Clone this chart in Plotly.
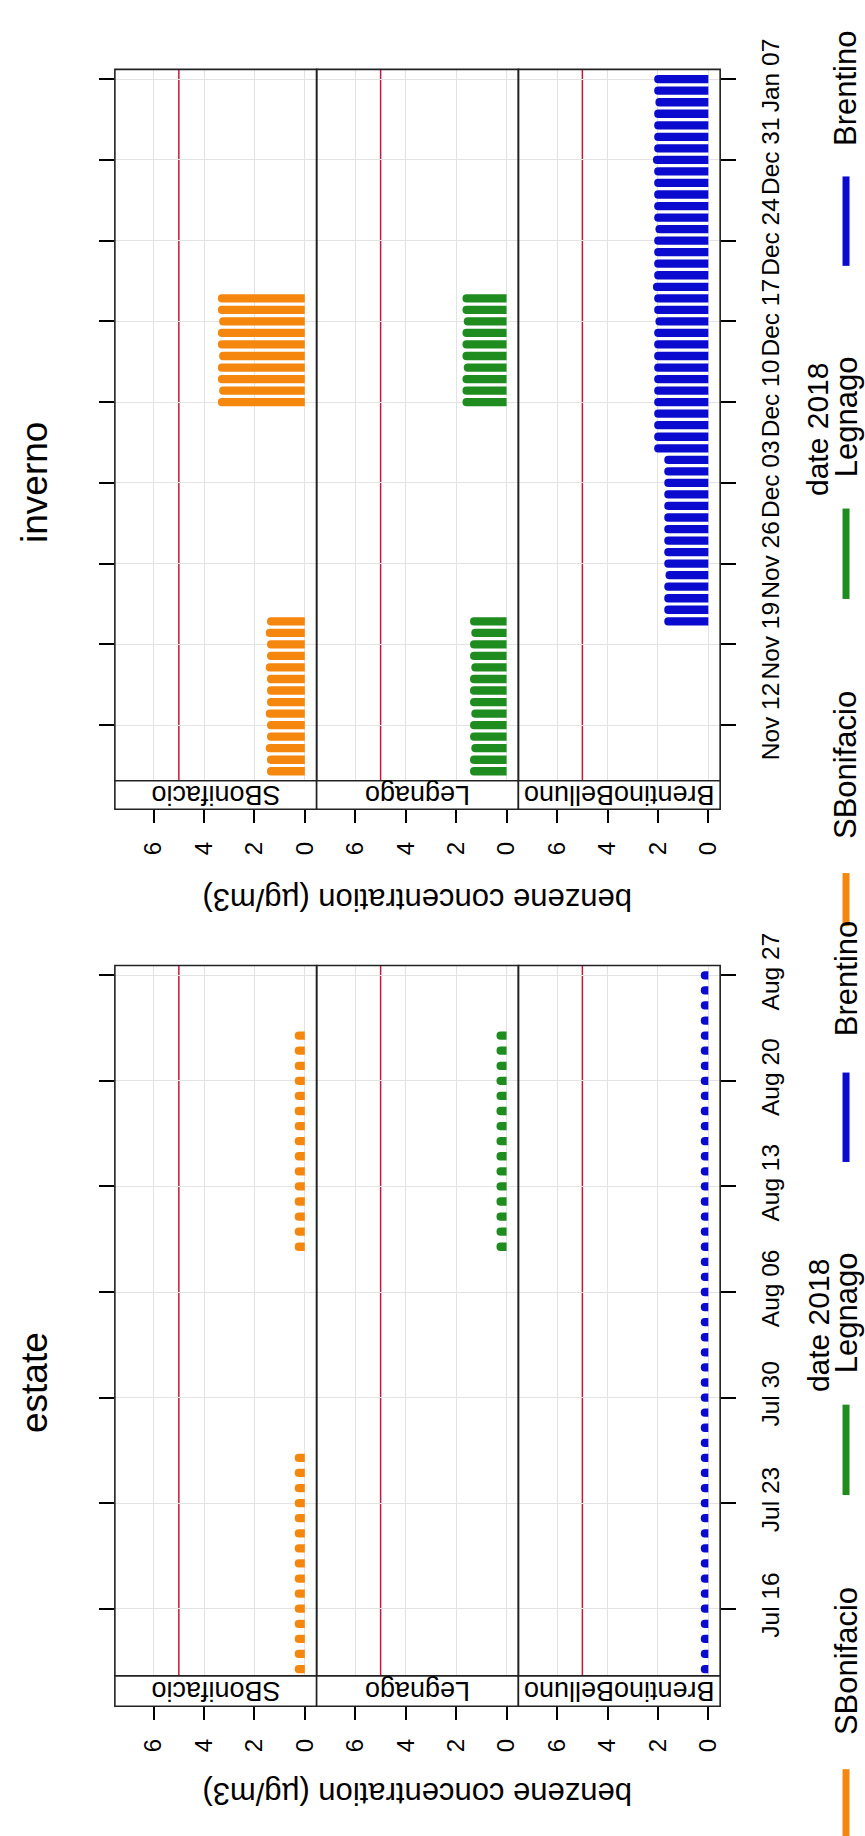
import pandas as pd
import plotly.graph_objects as go

W, H = 865, 1836
FONT = "Liberation Sans, Arial, sans-serif"

# ---------------- data ----------------
stations = ["SBonifacio", "Legnago", "BrentinoBelluno"]
station_colors = ["#f5870f", "#1f8c1f", "#0b0bd0"]
seasons = ["inverno", "estate"]

# inverno (winter 2018)
inv_sb_dates = list(pd.date_range("2018-11-08", "2018-11-21")) + list(pd.date_range("2018-12-10", "2018-12-19"))
inv_sb_vals = [1.5, 1.5, 1.55, 1.5, 1.5, 1.55, 1.5, 1.5, 1.5, 1.55, 1.5, 1.5, 1.55, 1.5,
               3.45, 3.4, 3.45, 3.45, 3.4, 3.45, 3.45, 3.4, 3.45, 3.45]
inv_le_dates = list(pd.date_range("2018-11-08", "2018-11-21")) + list(pd.date_range("2018-12-10", "2018-12-19"))
inv_le_vals = [1.45, 1.45, 1.4, 1.45, 1.45, 1.4, 1.45, 1.45, 1.45, 1.4, 1.45, 1.45, 1.4, 1.45,
               1.75, 1.75, 1.75, 1.7, 1.75, 1.75, 1.75, 1.7, 1.75, 1.75]
inv_br_dates = list(pd.date_range("2018-11-21", "2019-01-07"))
inv_br_vals = [1.75, 1.75, 1.75, 1.75, 1.7, 1.75, 1.75, 1.75, 1.75, 1.75, 1.75, 1.75, 1.75, 1.75, 1.75,
               2.15, 2.15, 2.15, 2.15, 2.15, 2.15, 2.15, 2.15, 2.15, 2.15, 2.15, 2.1,
               2.15, 2.15, 2.2, 2.15, 2.15, 2.15, 2.15, 2.1, 2.15, 2.15, 2.15, 2.15,
               2.15, 2.2, 2.15, 2.15, 2.15, 2.15, 2.1, 2.15, 2.15]

# estate (summer 2018)
est_sb_dates = list(pd.date_range("2018-07-12", "2018-07-26")) + list(pd.date_range("2018-08-09", "2018-08-23"))
est_sb_vals = [0.4, 0.4, 0.4, 0.4, 0.4, 0.4, 0.4, 0.4, 0.4, 0.4, 0.4, 0.4, 0.4, 0.4, 0.4,
               0.4, 0.4, 0.4, 0.4, 0.4, 0.4, 0.4, 0.4, 0.4, 0.4, 0.4, 0.4, 0.4, 0.4, 0.4]
est_le_dates = list(pd.date_range("2018-08-09", "2018-08-23"))
est_le_vals = [0.4, 0.4, 0.4, 0.4, 0.4, 0.4, 0.4, 0.4, 0.4, 0.4, 0.4, 0.4, 0.4, 0.4, 0.4]
est_br_dates = list(pd.date_range("2018-07-12", "2018-08-27"))
est_br_vals = [0.3, 0.3, 0.3, 0.3, 0.3, 0.3, 0.3, 0.3, 0.3, 0.3, 0.3, 0.3, 0.3, 0.3, 0.3, 0.3,
               0.3, 0.3, 0.3, 0.3, 0.3, 0.3, 0.3, 0.3, 0.3, 0.3, 0.3, 0.3, 0.3, 0.3, 0.3, 0.3,
               0.3, 0.3, 0.3, 0.3, 0.3, 0.3, 0.3, 0.3, 0.3, 0.3, 0.3, 0.3, 0.3, 0.3, 0.3]

limit_value = 5
value_ticks = [0, 2, 4, 6]
inv_date_ticks = ["2018-11-12", "2018-11-19", "2018-11-26", "2018-12-03", "2018-12-10",
                  "2018-12-17", "2018-12-24", "2018-12-31", "2019-01-07"]
est_date_ticks = ["2018-07-16", "2018-07-23", "2018-07-30", "2018-08-06", "2018-08-13",
                  "2018-08-20", "2018-08-27"]
inv_date_range = ["2018-11-07 04:20", "2019-01-07 20:25"]
est_date_range = ["2018-07-11 13:10", "2018-08-27 15:40"]

data = {
    "inverno": [(inv_sb_dates, inv_sb_vals), (inv_le_dates, inv_le_vals), (inv_br_dates, inv_br_vals)],
    "estate": [(est_sb_dates, est_sb_vals), (est_le_dates, est_le_vals), (est_br_dates, est_br_vals)],
}
date_ticks = {"inverno": inv_date_ticks, "estate": est_date_ticks}
date_ranges = {"inverno": inv_date_range, "estate": est_date_range}

# ---------------- layout geometry (pixels) ----------------
def fx(p):
    return p / W

def fy(p):
    return 1 - p / H

panel_x = [(115, 317), (317, 519), (519, 721)]
geo = {
    "inverno": dict(top=38, strip_top=762, strip_bot=791, off=0, bar_w=0.72, title_y=458),
    "estate": dict(top=950, strip_top=1673, strip_bot=1704, off=912, bar_w=0.55, title_y=1374),
}

fig = go.Figure()
layout = dict(
    width=W, height=H, autosize=False,
    margin=dict(l=0, r=0, t=0, b=0),
    paper_bgcolor="white", plot_bgcolor="white",
    showlegend=False, font=dict(family=FONT, color="black"),
)
shapes = []
annotations = []

n = 0
for s in seasons:
    g = geo[s]
    for i, st in enumerate(stations):
        n += 1
        xa = "x" if n == 1 else f"x{n}"
        ya = "y" if n == 1 else f"y{n}"
        dates, vals = data[s][i]
        fig.add_trace(go.Bar(
            x=vals, y=dates, orientation="h", xaxis=xa, yaxis=ya,
            width=g["bar_w"] * 86400000,
            marker=dict(color=station_colors[i], line=dict(width=0), cornerradius=4),
            hoverinfo="skip",
        ))
        xl, xr = panel_x[i]
        layout["xaxis" if n == 1 else f"xaxis{n}"] = dict(
            domain=[fx(xl), fx(xr)], range=[7.54, -0.47],
            anchor="free", position=fy(g["strip_bot"]),
            tickmode="array", tickvals=value_ticks, ticktext=[str(v) for v in value_ticks],
            ticks="outside", ticklen=13, tickwidth=1.5, tickcolor="black",
            ticklabelstandoff=9,
            tickangle=-90, tickfont=dict(size=24, family=FONT, color="black"),
            showgrid=True, gridcolor="#e3e3e3", gridwidth=1,
            zeroline=False, showline=False,
        )
        yax = dict(
            domain=[fy(g["strip_top"]), fy(g["top"])], type="date",
            range=date_ranges[s], anchor=xa,
            tickmode="array", tickvals=date_ticks[s], tickformat="%b %d",
            showgrid=True, gridcolor="#e3e3e3", gridwidth=1,
            zeroline=False, showline=False,
        )
        if i == 0:
            yax.update(side="left", ticks="outside", ticklen=15, tickwidth=1.5,
                       tickcolor="black", showticklabels=False)
        elif i == 1:
            yax.update(ticks="", showticklabels=False)
        else:
            yax.update(side="right", ticks="outside", ticklen=15, tickwidth=1.5,
                       tickcolor="black", showticklabels=True, tickangle=-90,
                       ticklabelstandoff=13,
                       tickfont=dict(size=24.5, family=FONT, color="black"))
        layout["yaxis" if n == 1 else f"yaxis{n}"] = yax

        # reference line at the limit value
        shapes.append(dict(type="line", xref=xa, yref=f"{ya} domain",
                           x0=limit_value, x1=limit_value, y0=0, y1=1,
                           line=dict(color="#c8163a", width=1.5), layer="below"))
        # panel border
        shapes.append(dict(type="rect", xref="paper", yref="paper",
                           x0=fx(xl), x1=fx(xr), y0=fy(g["strip_top"]), y1=fy(g["top"]),
                           line=dict(color="#222222", width=1.6), layer="above"))
        # strip
        shapes.append(dict(type="rect", xref="paper", yref="paper",
                           x0=fx(xl), x1=fx(xr), y0=fy(g["strip_bot"]), y1=fy(g["strip_top"]),
                           fillcolor="white",
                           line=dict(color="#222222", width=1.6), layer="above"))
        annotations.append(dict(text=st, xref="paper", yref="paper",
                                x=fx((xl + xr) / 2), y=fy((g["strip_top"] + g["strip_bot"]) / 2),
                                xanchor="center", yanchor="middle", textangle=180,
                                showarrow=False, font=dict(size=27, family=FONT, color="black")))

    off = g["off"]
    # main title
    annotations.append(dict(text=s, xref="paper", yref="paper", x=fx(34), y=fy(g["title_y"]),
                            xanchor="center", yanchor="middle", textangle=-90, showarrow=False,
                            font=dict(size=37, family=FONT, color="black")))
    # value axis title
    annotations.append(dict(text="benzene concentration (µg/m3)", xref="paper", yref="paper",
                            x=fx(418), y=fy(883 + off - (2 if s == "estate" else 0)),
                            xanchor="center", yanchor="middle", textangle=180, showarrow=False,
                            font=dict(size=31, family=FONT, color="black")))
    # date axis title
    annotations.append(dict(text="date 2018", xref="paper", yref="paper",
                            x=fx(819), y=fy(405 + off),
                            xanchor="center", yanchor="middle", textangle=-90, showarrow=False,
                            font=dict(size=30, family=FONT, color="black")))
    # legend keys
    key_spans = [(856 + off, 910 + off if s == "inverno" else 1870), (485 + off, 577 + off), (147 + off, 238 + off)]
    for (y0, y1), c in zip(key_spans, station_colors):
        shapes.append(dict(type="line", xref="paper", yref="paper",
                           x0=fx(847), x1=fx(847), y0=fy(y0), y1=fy(y1),
                           line=dict(color=c, width=7), layer="above"))
    legend_text = [("SBonifacio", 746 + off), ("Legnago", 392 + off)]
    if s == "inverno":
        legend_text.append(("Brentino", 58))
    else:
        legend_text.append(("Brentino", 964))
    for txt, yc in legend_text:
        annotations.append(dict(text=txt, xref="paper", yref="paper", x=fx(847), y=fy(yc),
                                xanchor="center", yanchor="middle", textangle=-90, showarrow=False,
                                font=dict(size=31, family=FONT, color="black")))

layout["shapes"] = shapes
layout["annotations"] = annotations
fig.update_layout(**layout)
fig.write_html("out.html")
